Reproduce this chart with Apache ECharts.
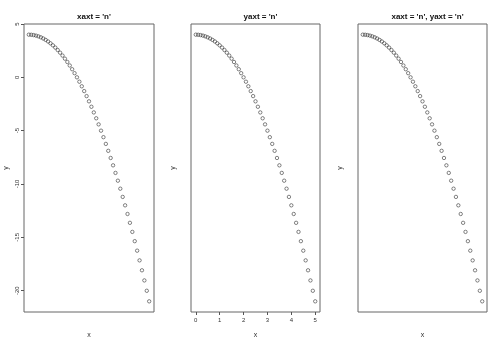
<!DOCTYPE html>
<html>
<head>
<meta charset="utf-8">
<script src="https://cdn.jsdelivr.net/npm/echarts@6/dist/echarts.min.js"></script>
<style>html,body{margin:0;padding:0;background:#fff}#c{width:500px;height:344px}</style>
</head>
<body>
<div id="c"></div>
<script>
var xValues = [0,0.1,0.2,0.3,0.4,0.5,0.6,0.7,0.8,0.9,1,1.1,1.2,1.3,1.4,1.5,1.6,1.7,1.8,1.9,2,2.1,2.2,2.3,2.4,2.5,2.6,2.7,2.8,2.9,3,3.1,3.2,3.3,3.4,3.5,3.6,3.7,3.8,3.9,4,4.1,4.2,4.3,4.4,4.5,4.6,4.7,4.8,4.9,5];
var yValues = [4,3.99,3.96,3.91,3.84,3.75,3.64,3.51,3.36,3.19,3,2.79,2.56,2.31,2.04,1.75,1.44,1.11,0.76,0.39,0,-0.41,-0.84,-1.29,-1.76,-2.25,-2.76,-3.29,-3.84,-4.41,-5,-5.61,-6.24,-6.89,-7.56,-8.25,-8.96,-9.69,-10.44,-11.21,-12,-12.81,-13.64,-14.49,-15.36,-16.25,-17.16,-18.09,-19.04,-20.01,-21];
var xTicks = [0,1,2,3,4,5];
var yTicks = [-20,-15,-10,-5,0,5];
var titles = ["xaxt = 'n'", "yaxt = 'n'", "xaxt = 'n', yaxt = 'n'"];
var showX = [false, true, false];
var showY = [true, false, false];

var points = xValues.map(function(x,i){return [x, yValues[i]];});
var lefts = [24, 191, 358];
var widths = [130, 129, 129];
var font = 'Liberation Sans, Arial, sans-serif';

var grids = [], xAxes = [], yAxes = [], series = [], tts = [];
for (var k = 0; k < 3; k++) {
  grids.push({left: lefts[k], top: 24, width: widths[k], height: 288, show: true, borderColor: '#666', borderWidth: 1, backgroundColor: 'transparent'});
  tts.push({text: titles[k], left: lefts[k] + widths[k]/2, top: 8, textAlign: 'center',
    textStyle: {fontSize: 8, fontWeight: 'bold', color: '#111', fontFamily: font}});
  xAxes.push({type: 'value', gridIndex: k, min: -0.2, max: 5.2, position: 'bottom',
    name: 'x', nameLocation: 'middle', nameGap: 20,
    nameTextStyle: {fontSize: 7, color: '#333', fontFamily: font},
    axisLine: {show: false, onZero: false}, splitLine: {show: false},
    axisTick: {show: showX[k], length: 3, customValues: xTicks, lineStyle: {color: '#555'}},
    axisLabel: {show: showX[k], fontSize: 6, color: '#333', margin: 5, customValues: xTicks, fontFamily: font}});
  yAxes.push({type: 'value', gridIndex: k, min: -22, max: 5, position: 'left',
    name: 'y', nameLocation: 'middle', nameGap: 14, nameRotate: 90,
    nameTextStyle: {fontSize: 7, color: '#333', fontFamily: font},
    axisLine: {show: false, onZero: false}, splitLine: {show: false},
    axisTick: {show: showY[k], length: 3, customValues: yTicks, lineStyle: {color: '#555'}},
    axisLabel: {show: showY[k], fontSize: 6, color: '#333', margin: 4, rotate: 90, customValues: yTicks, fontFamily: font}});
  series.push({type: 'scatter', xAxisIndex: k, yAxisIndex: k, data: points,
    symbol: 'circle', symbolSize: 3.4,
    itemStyle: {color: 'transparent', borderColor: '#222', borderWidth: 0.7}, silent: true});
}

var chart = echarts.init(document.getElementById('c'), null, {renderer: 'canvas'});
chart.setOption({animation: false, backgroundColor: '#fff', title: tts, grid: grids, xAxis: xAxes, yAxis: yAxes, series: series});
</script>
</body>
</html>
